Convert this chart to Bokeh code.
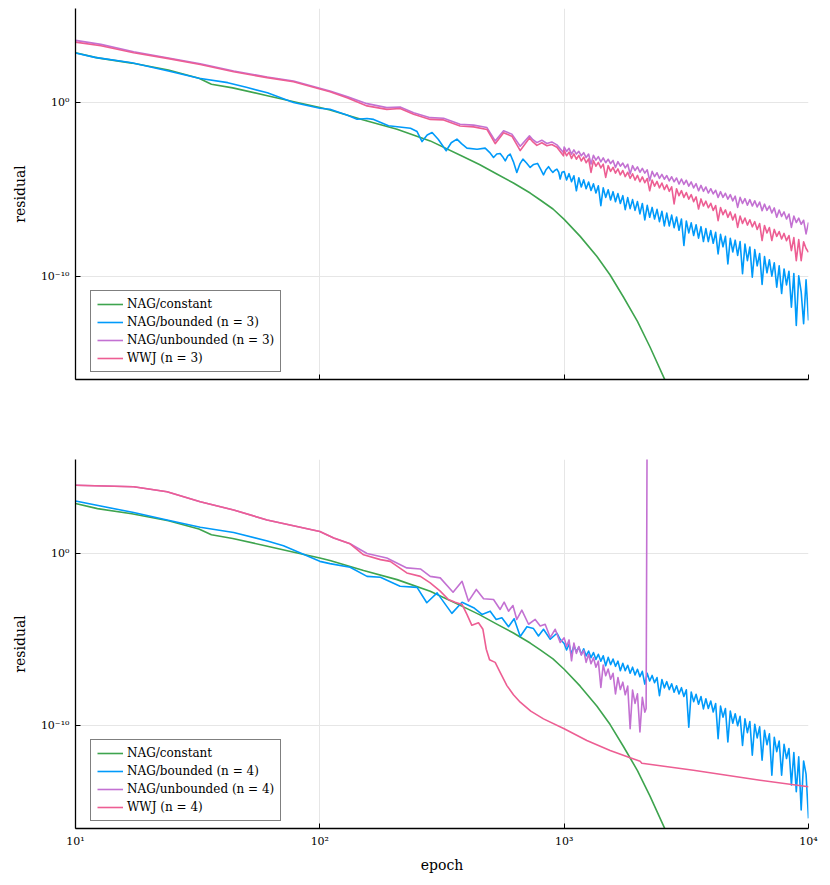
from bokeh.plotting import figure
from bokeh.layouts import column
from bokeh.models import Range1d, FixedTicker
from bokeh.embed import file_html
from bokeh.resources import INLINE

# ---------------- data (epochs, log10 of residual) ----------------
x_ticks = [10, 100, 1000, 10000]
x_tick_labels = ["10¹", "10²", "10³", "10⁴"]
y_ticks = [1e-10, 1]
y_tick_labels = ["10⁻¹⁰", "10⁰"]

series_names_top = ["NAG/constant", "NAG/bounded (n = 3)", "NAG/unbounded (n = 3)", "WWJ (n = 3)"]
series_names_bot = ["NAG/constant", "NAG/bounded (n = 4)", "NAG/unbounded (n = 4)", "WWJ (n = 4)"]
colors = ["#3EA44E", "#009AFA", "#C371D2", "#ED5E93"]

# dense sampling epochs used for the oscillating tails (1000 .. 10000)
epochs_dense = [1000, 1023, 1047, 1072, 1096, 1122, 1148, 1175, 1202, 1230,
                1259, 1288, 1318, 1349, 1380, 1413, 1445, 1479, 1514, 1549,
                1585, 1622, 1660, 1698, 1738, 1778, 1820, 1862, 1905, 1950,
                1995, 2042, 2089, 2138, 2188, 2239, 2291, 2344, 2399, 2455,
                2512, 2570, 2630, 2692, 2754, 2818, 2884, 2951, 3020, 3090,
                3162, 3236, 3311, 3388, 3467, 3548, 3631, 3715, 3802, 3890,
                3981, 4074, 4169, 4266, 4365, 4467, 4571, 4677, 4786, 4898,
                5012, 5129, 5248, 5370, 5495, 5623, 5754, 5888, 6026, 6166,
                6310, 6457, 6607, 6761, 6918, 7079, 7244, 7413, 7586, 7762,
                7943, 8128, 8318, 8511, 8710, 8913, 9120, 9333, 9550, 9772,
                10000]

# NAG/constant (same in both panels)
const_epoch = [10, 12.3, 17, 24, 32, 36, 44, 61, 80, 100, 110, 151, 207, 283, 387, 450,
               530, 620, 726, 798, 900, 1000, 1163, 1360, 1542, 1748, 1995, 2248, 2570, 2700]
const_log = [2.90, 2.60, 2.30, 1.90, 1.42, 1.08, 0.87, 0.42, 0.04, -0.26, -0.41, -0.99,
             -1.52, -2.19, -3.10, -3.55, -4.10, -4.62, -5.20, -5.60, -6.12, -6.72, -7.70,
             -8.85, -9.93, -11.20, -12.60, -14.10, -15.91, -16.70]

# ---- top panel (n = 3) ----
b3_epoch = [10, 12, 17, 24, 32, 42, 50, 61, 78, 100, 110, 129, 142, 156, 166, 191, 235,
            250, 262, 275, 288, 305, 329, 345, 364, 380, 400, 440, 475, 495, 514, 530,
            547, 560, 574, 588, 601, 620, 640, 660, 678, 700, 726, 750, 778, 800, 823,
            843, 863, 880, 899, 915, 934, 950, 963, 980]
b3_log = [2.88, 2.63, 2.32, 1.84, 1.42, 1.17, 0.90, 0.59, 0.02, -0.31, -0.36, -0.70,
          -0.94, -0.90, -0.95, -1.32, -1.46, -1.65, -2.23, -1.85, -1.71, -2.10, -2.76,
          -2.30, -2.09, -2.35, -2.61, -2.67, -2.61, -2.85, -3.15, -2.95, -2.92, -3.10,
          -3.34, -3.05, -2.95, -3.40, -4.01, -3.50, -3.24, -3.45, -3.72, -3.55, -3.49,
          -3.80, -4.15, -3.85, -3.68, -3.85, -4.01, -3.90, -3.82, -4.00, -4.39, -4.00]
b3_dense = [-3.96, -4.45, -4.08, -4.55, -4.20, -5.07, -4.32, -4.85, -4.44, -4.95,
            -4.56, -5.05, -4.67, -5.20, -4.78, -5.93, -4.90, -5.45, -5.01, -5.60,
            -5.12, -5.70, -5.23, -5.80, -5.35, -6.16, -5.46, -6.10, -5.58, -6.20,
            -5.69, -6.40, -5.80, -6.75, -5.91, -6.60, -6.03, -6.70, -6.14, -6.85,
            -6.25, -7.10, -6.36, -7.10, -6.47, -7.20, -6.58, -7.35, -6.70, -8.23,
            -6.81, -7.50, -6.92, -7.65, -7.03, -7.80, -7.14, -8.00, -7.25, -8.00,
            -7.36, -8.10, -7.47, -8.71, -7.58, -8.30, -7.70, -9.29, -7.81, -8.60,
            -7.92, -8.80, -8.00, -9.86, -8.15, -9.10, -8.31, -10.06, -8.46, -9.40,
            -8.69, -10.48, -8.87, -9.80, -9.05, -10.00, -9.22, -10.63, -9.40, -11.00,
            -9.58, -10.50, -9.71, -11.79, -9.85, -12.84, -9.98, -10.90, -12.74, -10.20,
            -12.55]

u3_epoch = [10, 12.7, 17.3, 23.7, 32.4, 44.4, 60.8, 78, 100, 110, 130, 156, 188, 213,
            242, 283, 321, 375, 426, 483, 522, 565, 611, 661, 721, 745, 773, 810, 850,
            890, 934, 993]
u3_log = [3.61, 3.38, 2.95, 2.61, 2.26, 1.84, 1.50, 1.27, 0.85, 0.69, 0.35, -0.04,
          -0.27, -0.23, -0.56, -0.85, -0.88, -1.23, -1.28, -1.42, -2.19, -1.61, -1.80,
          -2.50, -1.90, -2.12, -2.29, -2.15, -2.34, -2.25, -2.42, -2.86]
u3_dense = [-2.54, -2.80, -2.62, -2.95, -2.71, -2.95, -2.79, -3.05, -2.87, -3.15,
            -2.95, -3.53, -3.02, -3.30, -3.10, -3.40, -3.17, -3.45, -3.25, -3.50,
            -3.32, -3.72, -3.39, -3.65, -3.47, -3.75, -3.54, -4.10, -3.62, -3.90,
            -3.69, -4.00, -3.78, -4.05, -3.86, -4.49, -3.95, -4.25, -4.03, -4.35,
            -4.12, -4.40, -4.19, -4.50, -4.26, -4.55, -4.33, -4.68, -4.39, -4.70,
            -4.46, -4.80, -4.56, -4.90, -4.66, -5.07, -4.76, -5.10, -4.85, -5.20,
            -4.95, -5.25, -5.04, -5.45, -5.12, -5.45, -5.21, -5.55, -5.29, -5.65,
            -5.38, -6.03, -5.45, -5.80, -5.52, -5.90, -5.58, -5.95, -5.65, -6.00,
            -5.72, -6.22, -5.84, -6.20, -5.95, -6.35, -6.06, -6.60, -6.18, -6.55,
            -6.29, -6.70, -6.41, -7.18, -6.53, -6.90, -6.65, -7.00, -6.77, -7.56,
            -6.89]

w3_epoch = u3_epoch
w3_log = [3.51, 3.30, 2.90, 2.57, 2.22, 1.80, 1.46, 1.22, 0.80, 0.64, 0.29, -0.17,
          -0.37, -0.32, -0.65, -0.95, -0.98, -1.33, -1.38, -1.53, -2.35, -1.72, -1.92,
          -2.75, -2.02, -2.25, -2.45, -2.30, -2.47, -2.40, -2.56, -3.05]
w3_dense = [-2.74, -3.05, -2.84, -3.20, -2.94, -3.25, -3.03, -3.35, -3.13, -3.45,
            -3.23, -4.01, -3.33, -3.65, -3.43, -3.75, -3.53, -4.30, -3.62, -3.95,
            -3.72, -4.05, -3.81, -4.15, -3.90, -4.25, -4.00, -4.35, -4.09, -4.45,
            -4.18, -4.55, -4.27, -4.60, -4.36, -5.07, -4.45, -4.80, -4.53, -4.90,
            -4.62, -5.00, -4.73, -5.10, -4.84, -5.83, -4.95, -5.35, -5.06, -5.45,
            -5.17, -5.55, -5.29, -5.70, -5.42, -6.12, -5.54, -5.95, -5.67, -6.05,
            -5.79, -6.20, -5.92, -6.79, -6.04, -6.45, -6.17, -6.60, -6.29, -6.75,
            -6.42, -7.18, -6.53, -6.95, -6.64, -7.05, -6.74, -7.15, -6.85, -7.30,
            -6.96, -7.94, -7.07, -7.50, -7.19, -7.94, -7.30, -7.70, -7.42, -7.85,
            -7.53, -7.95, -7.65, -8.52, -7.77, -9.10, -7.89, -9.10, -8.01, -8.40,
            -8.62]

# ---- bottom panel (n = 4) ----
b4_epoch = [10, 17.3, 23.7, 32.4, 44.4, 61, 71, 100, 110, 133, 156, 177, 213, 250, 274,
            302, 347, 382, 426, 461, 498, 527, 556, 592, 624, 661, 704, 749, 785, 823,
            877, 934, 963]
b4_log = [3.04, 2.37, 1.94, 1.52, 1.21, 0.72, 0.44, -0.46, -0.59, -0.80, -1.33, -1.38,
          -1.90, -1.97, -2.86, -2.29, -3.48, -2.83, -3.15, -3.54, -3.35, -3.83, -3.73,
          -4.25, -3.79, -4.82, -4.25, -4.36, -4.79, -4.40, -4.98, -4.63, -4.98]
b4_dense = [-5.23, -5.60, -5.27, -5.85, -5.36, -5.70, -5.44, -5.85, -5.53, -5.95,
            -5.66, -6.05, -5.75, -6.15, -5.85, -6.25, -5.94, -6.52, -6.03, -6.45,
            -6.13, -6.55, -6.25, -6.81, -6.37, -6.80, -6.49, -6.95, -6.60, -7.05,
            -6.72, -7.15, -6.84, -7.58, -6.96, -7.40, -7.08, -7.50, -7.20, -8.25,
            -7.32, -7.80, -7.44, -7.90, -7.56, -8.05, -7.68, -8.15, -7.79, -8.30,
            -7.91, -10.08, -8.04, -8.60, -8.17, -8.75, -8.30, -9.02, -8.43, -9.00,
            -8.56, -9.20, -8.71, -10.75, -8.86, -9.50, -9.00, -10.94, -9.15, -9.85,
            -9.30, -10.00, -9.45, -11.14, -9.60, -10.40, -9.75, -11.71, -9.91, -10.70,
            -10.06, -12.00, -10.26, -11.10, -10.47, -12.87, -10.67, -11.50, -10.88, -12.87,
            -11.08, -11.90, -11.32, -13.44, -11.56, -13.83, -11.80, -14.89, -12.04, -12.80,
            -15.37]

u4_epoch = [10, 17.3, 23.7, 32.4, 44.4, 60.8, 100, 114, 133, 156, 188, 227, 258, 283,
            311, 351, 382, 406, 437, 468, 514, 547, 568, 592, 617, 640, 671, 715, 761,
            798, 836, 877, 919, 963]
u4_log = [3.96, 3.87, 3.58, 3.00, 2.52, 1.94, 1.27, 0.89, 0.56, 0.00, -0.27, -0.84,
          -0.90, -1.33, -1.42, -2.25, -1.62, -2.77, -2.09, -2.63, -2.67, -3.25, -2.83,
          -3.35, -3.02, -3.83, -3.29, -4.11, -3.83, -4.21, -4.11, -4.88, -4.40, -5.17]
u4_dense = [-4.90, -5.40, -5.02, -6.23, -5.20, -5.80, -5.40, -5.90, -5.63, -6.32,
            -5.85, -6.40, -6.05, -6.60, -6.25, -7.77, -6.47, -7.10, -6.71, -7.30,
            -6.95, -8.15, -7.20, -7.90, -7.47, -8.20, -7.70, -10.17, -7.93, -8.70,
            -8.15, -10.36, -8.35, -9.21]
u4_tail_epoch = [2165, 2190]
u4_tail_log = [-9.00, 11.00]

w4_epoch = [10, 17.3, 23.7, 32.4, 44.4, 60.8, 100, 114, 133, 151, 177, 194, 227, 258,
            283, 311, 336, 358, 382, 400, 419, 446, 465, 480, 495, 522, 547, 583, 620,
            661, 730, 823, 1000, 1238, 1542, 1862, 2046, 2079, 3380, 6333, 10000]
w4_log = [3.96, 3.87, 3.58, 3.00, 2.52, 1.94, 1.27, 0.89, 0.56, -0.08, -0.36, -0.46,
          -1.13, -1.33, -1.71, -2.19, -2.67, -2.83, -2.96, -3.54, -4.17, -4.02, -4.40,
          -5.56, -6.17, -6.32, -6.90, -7.67, -8.20, -8.63, -9.15, -9.60, -10.17, -10.85,
          -11.43, -11.86, -12.06, -12.17, -12.58, -13.16, -13.54]


def build(lo_e, lo_v, dense_v=(), tail_e=(), tail_v=()):
    e = list(lo_e) + epochs_dense[:len(dense_v)] + list(tail_e)
    v = list(lo_v) + list(dense_v) + list(tail_v)
    return e, [10.0 ** t for t in v]


FONT = "DejaVu Serif"


def make_panel(height, border_top, border_bottom, bottom_panel):
    p = figure(width=822, height=height, x_axis_type="log", y_axis_type="log",
               x_range=Range1d(10, 10000), y_range=Range1d(10 ** -15.96, 10 ** 5.45),
               output_backend="svg", toolbar_location=None,
               min_border_left=75, min_border_right=14,
               min_border_top=border_top, min_border_bottom=border_bottom)
    p.outline_line_color = None
    p.background_fill_color = "white"
    for ax in (p.xaxis[0], p.yaxis[0]):
        ax.axis_line_color = "black"
        ax.axis_line_width = 1.3
        ax.major_tick_in = 5
        ax.major_tick_out = 0
        ax.major_tick_line_color = "black"
        ax.major_tick_line_width = 1
        ax.minor_tick_line_color = None
        ax.major_label_text_font = FONT
        ax.major_label_text_font_size = "11px"
        ax.major_label_text_color = "black"
        ax.major_label_standoff = 6
        ax.axis_label_text_font = FONT
        ax.axis_label_text_font_size = "14px"
        ax.axis_label_text_font_style = "normal"
        ax.axis_label_text_color = "black"
        ax.axis_label_standoff = 10
    p.xaxis.ticker = FixedTicker(ticks=x_ticks)
    p.yaxis.ticker = FixedTicker(ticks=y_ticks)
    p.yaxis.major_label_overrides = {t: s for t, s in zip(y_ticks, y_tick_labels)}
    if bottom_panel:
        p.xaxis.major_label_overrides = {t: s for t, s in zip(x_ticks, x_tick_labels)}
        p.xaxis.axis_label = "epoch"
        p.xaxis.axis_label_standoff = 6
    else:
        p.xaxis.major_label_overrides = {t: "" for t in x_ticks}
    p.yaxis.axis_label = "residual"
    p.xgrid.grid_line_color = "#e6e6e6"
    p.ygrid.grid_line_color = "#e6e6e6"
    p.xgrid.grid_line_width = 1
    p.ygrid.grid_line_width = 1
    return p


def style_legend(p):
    lg = p.legend[0]
    lg.location = (15, 7)
    lg.border_line_color = "black"
    lg.border_line_width = 1.3
    lg.background_fill_color = "white"
    lg.background_fill_alpha = 1.0
    lg.padding = 6
    lg.spacing = 4
    lg.margin = 0
    lg.label_height = 14
    lg.glyph_height = 14
    lg.glyph_width = 26
    lg.label_standoff = 4
    lg.label_text_font = FONT
    lg.label_text_font_size = "12px"
    lg.label_text_color = "black"


LW = 1.6

# top panel
p1 = make_panel(399, 8, 20, False)
top_series = [
    build(const_epoch, const_log),
    build(b3_epoch, b3_log, b3_dense),
    build(u3_epoch, u3_log, u3_dense),
    build(w3_epoch, w3_log, w3_dense),
]
for (e, r), name, c in zip(top_series, series_names_top, colors):
    p1.line(e, r, line_color=c, line_width=LW, legend_label=name, line_join="round")
style_legend(p1)

# bottom panel
p2 = make_panel(476, 60, 44, True)
bot_series = [
    build(const_epoch, const_log),
    build(b4_epoch, b4_log, b4_dense),
    build(u4_epoch, u4_log, u4_dense, u4_tail_epoch, u4_tail_log),
    build(w4_epoch, w4_log),
]
for (e, r), name, c in zip(bot_series, series_names_bot, colors):
    p2.line(e, r, line_color=c, line_width=LW, legend_label=name, line_join="round")
style_legend(p2)

layout = column(p1, p2, spacing=0)
open("out.html", "w").write(file_html(layout, INLINE))
